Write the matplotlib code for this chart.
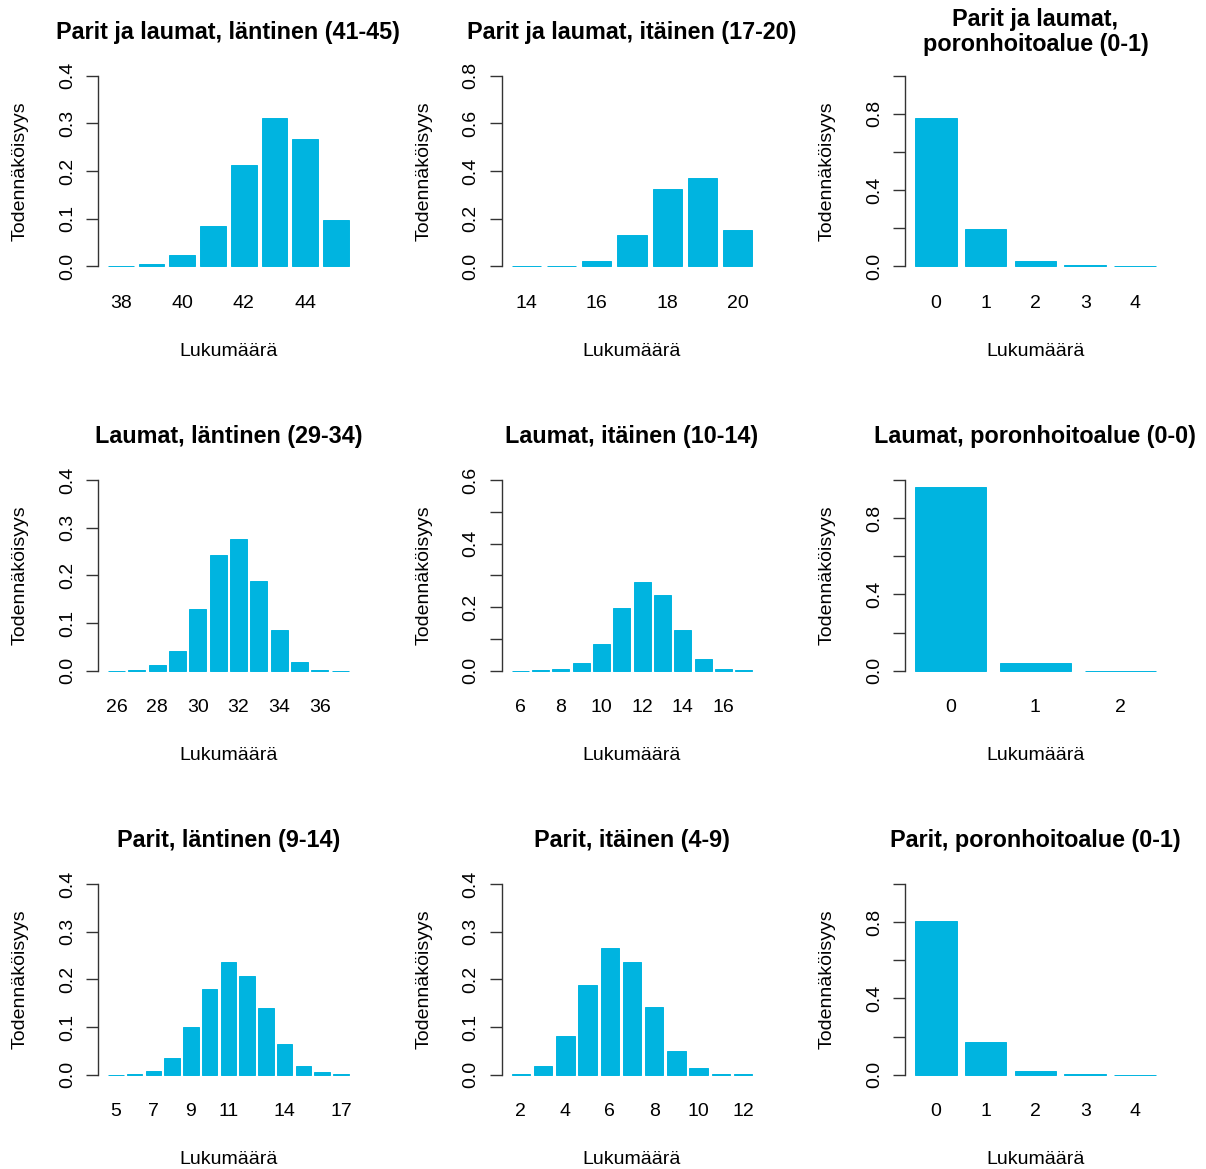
import numpy as np
import matplotlib
matplotlib.use("Agg")
import matplotlib.pyplot as plt

plt.rcParams['font.family'] = ['Liberation Sans', 'DejaVu Sans']

BAR_COLOR = '#00B4E0'
AXIS_COLOR = '#333333'

# ---- data ----
titles = [
    "Parit ja laumat, läntinen (41-45)",
    "Parit ja laumat, itäinen (17-20)",
    "Parit ja laumat,\nporonhoitoalue (0-1)",
    "Laumat, läntinen (29-34)",
    "Laumat, itäinen (10-14)",
    "Laumat, poronhoitoalue (0-0)",
    "Parit, läntinen (9-14)",
    "Parit, itäinen (4-9)",
    "Parit, poronhoitoalue (0-1)",
]

pl_cats = list(range(38, 46))
pl_vals = [0.001, 0.004, 0.023, 0.084, 0.212, 0.312, 0.268, 0.098]
pi_cats = list(range(14, 21))
pi_vals = [0.001, 0.002, 0.024, 0.132, 0.325, 0.370, 0.151]
pp_cats = list(range(0, 5))
pp_vals = [0.777, 0.195, 0.030, 0.005, 0.001]

ll_cats = list(range(26, 38))
ll_vals = [0.0005, 0.001, 0.013, 0.042, 0.129, 0.243, 0.277, 0.189, 0.085,
           0.019, 0.002, 0.0005]
li_cats = list(range(6, 18))
li_vals = [0.0005, 0.001, 0.006, 0.026, 0.083, 0.196, 0.278, 0.239, 0.127,
           0.036, 0.007, 0.001]
lp_cats = list(range(0, 3))
lp_vals = [0.962, 0.039, 0.001]

ql_cats = list(range(5, 18))
ql_vals = [0.0005, 0.002, 0.008, 0.036, 0.100, 0.179, 0.237, 0.207, 0.140,
           0.065, 0.018, 0.005, 0.001]
qi_cats = list(range(2, 13))
qi_vals = [0.001, 0.018, 0.081, 0.189, 0.265, 0.237, 0.143, 0.050, 0.015,
           0.001, 0.0007]
qp_cats = list(range(0, 5))
qp_vals = [0.807, 0.173, 0.021, 0.002, 0.0005]

cats = [pl_cats, pi_cats, pp_cats, ll_cats, li_cats, lp_cats, ql_cats, qi_cats, qp_cats]
vals = [pl_vals, pi_vals, pp_vals, ll_vals, li_vals, lp_vals, ql_vals, qi_vals, qp_vals]

# which category names R managed to print
shown = [
    [38, 40, 42, 44], [14, 16, 18, 20], [0, 1, 2, 3, 4],
    [26, 28, 30, 32, 34, 36], [6, 8, 10, 12, 14, 16], [0, 1, 2],
    [5, 7, 9, 11, 14, 17], [2, 4, 6, 8, 10, 12], [0, 1, 2, 3, 4],
]
ymaxes = [0.4, 0.8, 1.0, 0.4, 0.6, 1.0, 0.4, 0.4, 1.0]
ysteps = [0.1, 0.2, 0.2, 0.1, 0.1, 0.2, 0.1, 0.1, 0.2]
ylabeled = [
    [0.0, 0.1, 0.2, 0.3, 0.4], [0.0, 0.2, 0.4, 0.6, 0.8], [0.0, 0.4, 0.8],
    [0.0, 0.1, 0.2, 0.3, 0.4], [0.0, 0.2, 0.4, 0.6], [0.0, 0.4, 0.8],
    [0.0, 0.1, 0.2, 0.3, 0.4], [0.0, 0.1, 0.2, 0.3, 0.4], [0.0, 0.4, 0.8],
]

# ---- layout in pixels ----
W, H = 1206, 1169
col_left = [98.4, 502.0, 905.4]
row_top = [68.0, 472.4, 876.4]
pw, ph = 260.0, 206.0

fig = plt.figure(figsize=(W / 100, H / 100), dpi=100)

for k in range(9):
    r, c = divmod(k, 3)
    ax = fig.add_axes([col_left[c] / W, 1 - (row_top[r] + ph) / H, pw / W, ph / H])
    n = len(cats[k])
    # R barplot geometry: width 1, space 0.2
    centers = 0.7 + 1.2 * np.arange(n)
    ax.bar(centers, vals[k], width=1.0, color=BAR_COLOR,
           edgecolor=BAR_COLOR, linewidth=0.7)
    span = 1.2 * n - 0.2
    ax.set_xlim(0.2 - 0.04 * span, 1.2 * n + 0.04 * span)
    ymax = ymaxes[k]
    ax.set_ylim(-0.04 * ymax, 1.04 * ymax)

    for s in ['top', 'right', 'bottom']:
        ax.spines[s].set_visible(False)
    ax.spines['left'].set_bounds(0, ymax)
    ax.spines['left'].set_color(AXIS_COLOR)
    ax.spines['left'].set_linewidth(1.0)

    yt = np.round(np.arange(0, ymax + 1e-9, ysteps[k]), 2)
    ax.set_yticks(yt)
    ax.set_yticklabels([f"{v:.1f}" if any(abs(v - l) < 1e-9 for l in ylabeled[k]) else ""
                        for v in yt])
    ax.tick_params(axis='y', length=8.6, width=1.0, color=AXIS_COLOR, pad=7.5,
                   labelsize=14, labelrotation=90)
    for lab in ax.get_yticklabels():
        lab.set_va('center')

    idx = [cats[k].index(v) for v in shown[k]]
    ax.set_xticks(centers[idx])
    ax.set_xticklabels([str(v) for v in shown[k]])
    ax.tick_params(axis='x', length=0, pad=15, labelsize=14)

    ax.set_ylabel("Todennäköisyys", fontsize=14)
    ax.yaxis.set_label_coords(-78 / pw, 0.5)
    ax.yaxis.label.set_va('center')
    ax.set_xlabel("Lukumäärä", fontsize=14)
    ax.xaxis.set_label_coords(0.5, -77 / ph)
    ax.xaxis.label.set_va('center')

    ax.text(0.5, 1 + 36 / ph, titles[k], transform=ax.transAxes, ha='center',
            va='center', fontsize=16.8, fontweight='bold', linespacing=1.1)

fig.savefig("out.png", dpi=100)
